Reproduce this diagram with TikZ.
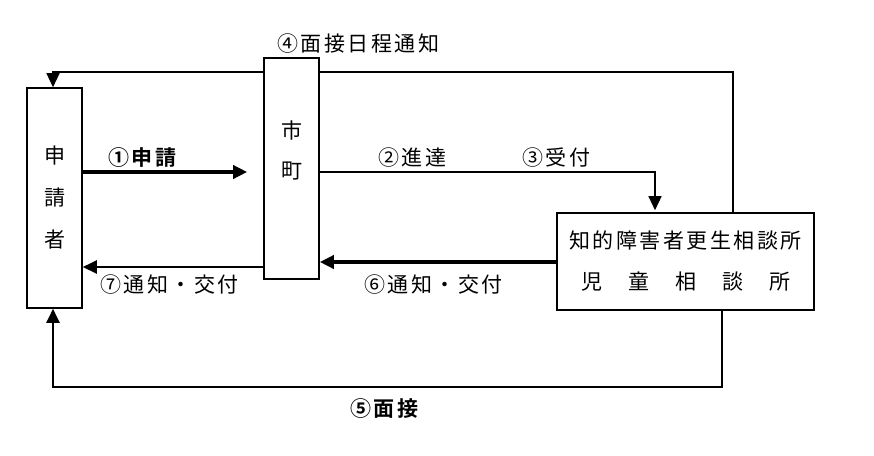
\documentclass[tikz,border=0pt]{standalone}
\usepackage{fontspec}
\setmainfont{Noto Sans CJK JP}[LetterSpace=12, BoldFont={Noto Sans CJK JP Bold}]
\usetikzlibrary{arrows.meta,calc,positioning}
\tikzset{
  >={Triangle[length=14pt,width=13pt]},
  box/.style={rectangle, draw=black, line width=1.6pt, fill=white,
    inner sep=0pt},
  flow/.style={draw, ->},
  label/.style={font=\fontsize{21}{24}\selectfont, inner sep=0pt},
}

\begin{document}
\begin{tikzpicture}[x=1pt, y=-1pt,
    thin flow/.style={flow, line width=1.4pt},
    mid flow/.style={flow, line width=2.4pt},
    thick flow/.style={flow, line width=3.6pt}
    ]
    \useasboundingbox (0,0) rectangle (874,455);

    %boxes
    \node[box, minimum width=55pt, minimum height=220pt] (shinsei) at (54.5,198) {};
    \node[box, minimum width=55pt, minimum height=221pt] (shicho) at (291.5,168.5) {};
    \node[box, minimum width=257pt, minimum height=97pt] (soudan) at (685.5,261.5) {};

    %box texts
    \node[label, align=center] (shinseitxt) at (shinsei.center)
        {申\\[18pt]請\\[18pt]者};
    \node[label, align=center] (shichotxt) at (291.5,150) {市\\[16pt]町};
    \node[label, align=center] (soudantxt) at (soudan.center)
        {知的障害者更生相談所\\[17pt]児\hspace{26pt}童\hspace{26pt}相\hspace{26pt}談\hspace{26pt}所};

    %rows and columns
    \coordinate (r1) at (0,172);
    \coordinate (r4) at (0,72);
    \coordinate (r5) at (0,387);
    \coordinate (r6) at (0,262);
    \coordinate (r7) at (0,267);
    \coordinate (cA) at (53,0);
    \coordinate (c3) at (655,0);
    \coordinate (c4) at (733,0);
    \coordinate (c5) at (722,0);

    %flows
    \draw[thick flow, shorten >=16pt] (shinsei.east |- r1) -- (shicho.west |- r1);
    \draw[thin flow, shorten >=2pt] (shicho.east |- r1) -| (soudan.north -| c3);
    \draw[thin flow, -] (soudan.north -| c4) |- (shicho.east |- r4);
    \draw[thin flow] (shicho.west |- r4) -| (shinsei.north -| cA);
    \draw[mid flow] (soudan.south -| c5) |- (cA |- r5) -- (shinsei.south -| cA);
    \draw[thick flow] (soudan.west |- r6) -- (shicho.east |- r6);
    \draw[mid flow] (shicho.west |- r7) -- (shinsei.east |- r7);

    %flow names
    \node[label, anchor=west] (l1) at (108,158) {\bfseries ①申請};
    \node[label, anchor=west] (l2) at (378,158) {②進達};
    \node[label, anchor=west] (l3) at (522,158) {③受付};
    \node[label, anchor=west] (l4) at (277,44) {④面接日程通知};
    \node[label, anchor=west] (l5) at (350,409) {\bfseries ⑤面接};
    \node[label, anchor=west] (l6) at (364,285) {⑥通知・交付};
    \node[label, anchor=west] (l7) at (100,285) {⑦通知・交付};
\end{tikzpicture}
\end{document}
